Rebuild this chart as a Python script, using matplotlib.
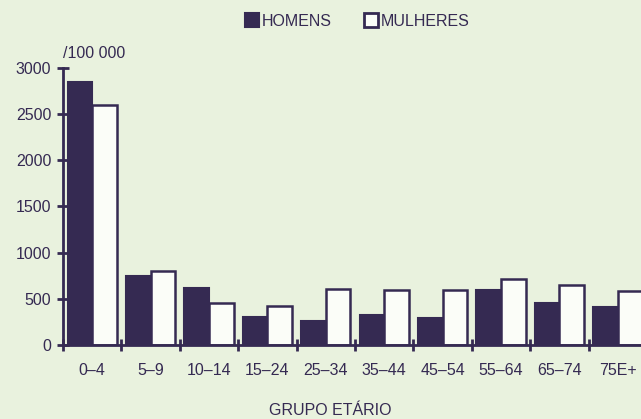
import matplotlib
matplotlib.use("Agg")
import matplotlib.pyplot as plt
import numpy as np
from matplotlib.patches import Patch

categories = ["0–4", "5–9", "10–14", "15–24", "25–34", "35–44", "45–54", "55–64", "65–74", "75E+"]
homens = [2850, 750, 620, 300, 260, 320, 290, 600, 455, 410]
mulheres = [2600, 800, 450, 425, 610, 600, 600, 720, 650, 590]
yticks = [0, 500, 1000, 1500, 2000, 2500, 3000]

bg = "#e9f2de"
dark = "#352a52"
white = "#fbfdf8"
plt.rcParams['font.family'] = ['Liberation Sans', 'DejaVu Sans']

fig = plt.figure(figsize=(6.41, 4.19), dpi=100, facecolor=bg)
ax = fig.add_axes([63/641, 74/419, 584/641, 277/419])
ax.set_facecolor(bg)

x = np.arange(len(categories))
w = 0.42
ax.bar(x - w/2, homens, width=w, color=dark, edgecolor=dark, linewidth=1.5)
ax.bar(x + w/2, mulheres, width=w, color=white, edgecolor=dark, linewidth=1.8)

ax.set_xlim(-0.5, len(categories) - 0.5)
ax.set_ylim(0, 3000)
ax.set_yticks(yticks)
ax.set_xticks(np.arange(len(categories)) - 0.5)
ax.set_xticklabels([])
ax.set_xticks(x, minor=True)
ax.set_xticklabels(categories, minor=True)

for s in ["top", "right"]:
    ax.spines[s].set_visible(False)
for s in ["left", "bottom"]:
    ax.spines[s].set_color(dark)
    ax.spines[s].set_linewidth(2)

ax.tick_params(axis="y", direction="inout", length=9, width=2, color=dark,
               labelsize=11.5, labelcolor=dark, pad=4)
ax.tick_params(axis="x", which="major", direction="inout", length=9, width=2, color=dark)
ax.tick_params(axis="x", which="minor", length=0, labelsize=11.5, labelcolor=dark, pad=13)

fig.text(63/641, (419-53)/419, "/100 000", color=dark, fontsize=11.5, va="center", ha="left")

ax.set_xlabel("GRUPO ETÁRIO", color=dark, fontsize=11.5)
ax.xaxis.set_label_coords((330-63)/584, -(403-345)/277)

handles = [Patch(facecolor=dark, edgecolor=dark, linewidth=1.5),
           Patch(facecolor=white, edgecolor=dark, linewidth=2)]
fig.legend(handles, ["HOMENS", "MULHERES"], loc="center", bbox_to_anchor=(357/641, (419-21)/419),
           ncol=2, frameon=False, fontsize=11.5, handlelength=0.9, handleheight=0.9,
           handletextpad=0.15, columnspacing=2.0, labelcolor=dark)

fig.savefig("out.png", dpi=100, facecolor=bg)
